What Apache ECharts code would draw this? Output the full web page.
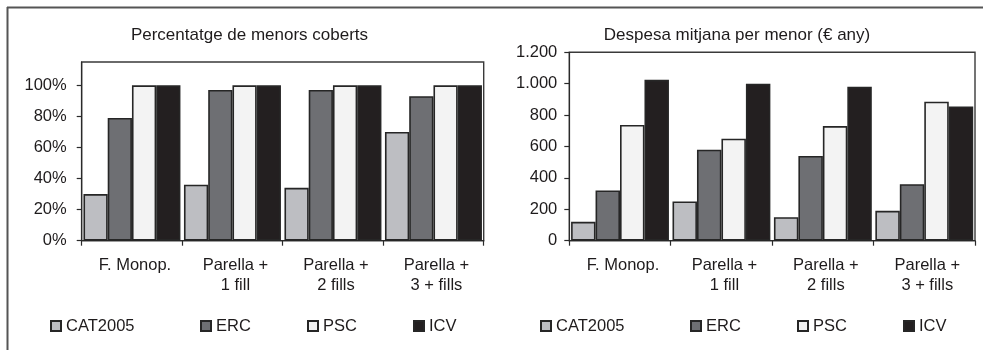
<!DOCTYPE html>
<html>
<head>
<meta charset="utf-8">
<script src="https://cdn.jsdelivr.net/npm/echarts@6/dist/echarts.min.js"></script>
<style>
  html, body { margin: 0; padding: 0; background: #fff; }
  #chart { width: 983px; height: 350px; }
</style>
</head>
<body>
<div id="chart"></div>
<script>
// Household types shown on both panels
const categories = ['F. Monop.', 'Parella +\n1 fill', 'Parella +\n2 fills', 'Parella +\n3 + fills'];
const seriesNames = ['CAT2005', 'ERC', 'PSC', 'ICV'];

// Left panel: share of minors covered (%)
const coverCAT2005 = [30, 36, 34, 70];
const coverERC = [79, 97, 97, 93];
const coverPSC = [100, 100, 100, 100];
const coverICV = [100, 100, 100, 100];

// Right panel: average spending per minor (€ per year)
const spendCAT2005 = [120, 250, 150, 190];
const spendERC = [320, 580, 540, 360];
const spendPSC = [737, 650, 730, 885];
const spendICV = [1025, 1000, 980, 855];

// Axis tick labels
const coverTicks = [0, 20, 40, 60, 80, 100];
const spendTicks = [0, 200, 400, 600, 800, 1000, 1200];

const fills = {
  CAT2005: '#bdbec2',
  ERC: '#6e6f73',
  PSC: '#f3f3f3',
  ICV: '#231f20'
};
const ink = '#1e1b1c';
const font = 'Liberation Sans, Arial, sans-serif';
const textSize = 16.5;

function barSeries(name, data, idx) {
  return {
    name: name,
    type: 'bar',
    xAxisIndex: idx,
    yAxisIndex: idx,
    data: data,
    barGap: '0%',
    barCategoryGap: '3.5%',
    itemStyle: { color: fills[name], borderColor: '#262626', borderWidth: 1.6 },
    emphasis: { disabled: true }
  };
}

function legendFor(name, left) {
  return {
    data: [name],
    left: left,
    top: 317,
    padding: 0,
    icon: 'rect',
    itemWidth: 10,
    itemHeight: 10,
    selectedMode: false,
    textStyle: { fontFamily: font, fontSize: textSize, color: ink, lineHeight: 18 }
  };
}

function thousands(v) {
  return String(v).replace(/\B(?=(\d{3})+(?!\d))/g, '.');
}

const catAxis = (idx) => ({
  type: 'category',
  gridIndex: idx,
  data: categories,
  axisLine: { lineStyle: { color: '#2a2a2a', width: 1.2 } },
  axisTick: { show: true, length: 5, lineStyle: { color: '#2a2a2a', width: 1.2 } },
  axisLabel: {
    fontFamily: font, fontSize: textSize, color: ink, lineHeight: 20,
    margin: 15, interval: 0, padding: [0, 0, 0, 6]
  }
});

const chart = echarts.init(document.getElementById('chart'), null, { renderer: 'canvas' });

chart.setOption({
  animation: false,
  backgroundColor: '#ffffff',
  title: [
    {
      text: 'Percentatge de menors coberts',
      left: 249.5, top: 27, padding: 0, textAlign: 'center',
      textStyle: { fontFamily: font, fontSize: 17, fontWeight: 'normal', color: ink }
    },
    {
      text: 'Despesa mitjana per menor (€ any)',
      left: 737, top: 27, padding: 0, textAlign: 'center',
      textStyle: { fontFamily: font, fontSize: 17, fontWeight: 'normal', color: ink }
    }
  ],
  legend: [
    legendFor('CAT2005', 50), legendFor('ERC', 200), legendFor('PSC', 307), legendFor('ICV', 413),
    legendFor('CAT2005', 540), legendFor('ERC', 690), legendFor('PSC', 797), legendFor('ICV', 903)
  ],
  grid: [
    { left: 81.7, top: 62, width: 402, height: 178.7, show: true, borderColor: '#3a3a3a', borderWidth: 1.4, backgroundColor: 'transparent' },
    { left: 569.3, top: 52.3, width: 405.7, height: 188.4, show: true, borderColor: '#3a3a3a', borderWidth: 1.4, backgroundColor: 'transparent' }
  ],
  xAxis: [catAxis(0), catAxis(1)],
  yAxis: [
    {
      type: 'value', gridIndex: 0, min: 0, max: 115, interval: 20,
      splitLine: { show: false },
      axisLine: { show: true, lineStyle: { color: '#2a2a2a', width: 1.2 } },
      axisTick: { show: true, length: 5, customValues: coverTicks, lineStyle: { color: '#2a2a2a', width: 1.2 } },
      axisLabel: {
        customValues: coverTicks, margin: 15,
        fontFamily: font, fontSize: textSize, color: ink,
        formatter: (v) => v + '%'
      }
    },
    {
      type: 'value', gridIndex: 1, min: 0, max: 1200, interval: 200,
      splitLine: { show: false },
      axisLine: { show: true, lineStyle: { color: '#2a2a2a', width: 1.2 } },
      axisTick: { show: true, length: 5, customValues: spendTicks, lineStyle: { color: '#2a2a2a', width: 1.2 } },
      axisLabel: {
        customValues: spendTicks, margin: 12,
        fontFamily: font, fontSize: textSize, color: ink,
        formatter: thousands
      }
    }
  ],
  series: [
    barSeries('CAT2005', coverCAT2005, 0),
    barSeries('ERC', coverERC, 0),
    barSeries('PSC', coverPSC, 0),
    barSeries('ICV', coverICV, 0),
    barSeries('CAT2005', spendCAT2005, 1),
    barSeries('ERC', spendERC, 1),
    barSeries('PSC', spendPSC, 1),
    barSeries('ICV', spendICV, 1)
  ],
  graphic: [
    // page frame: top and left rules
    { type: 'line', shape: { x1: 7, y1: 7.5, x2: 983, y2: 7.5 }, style: { stroke: '#555', lineWidth: 2 }, silent: true },
    { type: 'line', shape: { x1: 7.5, y1: 7, x2: 7.5, y2: 350 }, style: { stroke: '#555', lineWidth: 2 }, silent: true }
  ]
});
</script>
</body>
</html>
